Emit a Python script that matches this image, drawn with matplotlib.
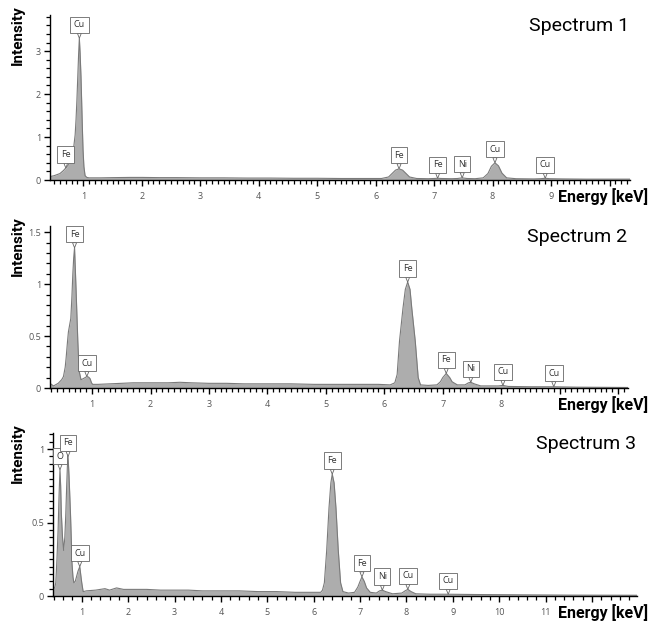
import matplotlib
matplotlib.use('Agg')
import matplotlib.pyplot as plt
from matplotlib.ticker import MultipleLocator, FormatStrFormatter

# spectrum 1
e1 = [0.43, 0.50, 0.60, 0.66, 0.70, 0.75, 0.80, 0.83, 0.86, 0.875, 0.89, 0.905, 0.92, 0.932,
      0.945, 0.96, 0.972, 0.983, 0.995, 1.01, 1.03, 1.06, 1.10, 1.3, 1.5, 1.8, 2.0, 2.3, 2.6,
      3.0, 3.4, 3.8, 4.2, 4.6, 5.0, 5.4, 5.8, 6.1, 6.22, 6.28, 6.34, 6.40, 6.46, 6.52, 6.58,
      6.7, 6.9, 7.0, 7.06, 7.12, 7.3, 7.4, 7.48, 7.56, 7.7, 7.84, 7.92, 7.98, 8.04, 8.10,
      8.16, 8.24, 8.4, 8.7, 8.82, 8.9, 8.98, 9.2, 9.6, 10.0, 10.35]
i1 = [0.08, 0.10, 0.15, 0.22, 0.28, 0.36, 0.50, 0.70, 1.05, 1.40, 1.85, 2.40, 2.95, 3.30,
      2.95, 2.40, 1.80, 1.24, 0.70, 0.31, 0.10, 0.06, 0.05, 0.05, 0.055, 0.06, 0.06, 0.055, 0.055,
      0.05, 0.05, 0.045, 0.045, 0.04, 0.04, 0.035, 0.035, 0.035, 0.07, 0.15, 0.23, 0.26, 0.23, 0.15, 0.07,
      0.035, 0.03, 0.035, 0.04, 0.035, 0.03, 0.035, 0.05, 0.035, 0.03, 0.05, 0.15, 0.32, 0.40, 0.33,
      0.16, 0.05, 0.03, 0.025, 0.03, 0.04, 0.03, 0.025, 0.02, 0.02, 0.02]
lab1 = ['Fe', 'Cu', 'Fe', 'Fe', 'Ni', 'Cu', 'Cu']
le1 = [0.70, 0.932, 6.40, 7.06, 7.48, 8.04, 8.90]
li1 = [0.28, 3.30, 0.26, 0.04, 0.05, 0.40, 0.04]

# spectrum 2
e2 = [0.28, 0.34, 0.42, 0.48, 0.51, 0.54, 0.556, 0.58, 0.595, 0.62, 0.636, 0.655, 0.67, 0.685,
      0.70, 0.713, 0.727, 0.742, 0.756, 0.77, 0.78, 0.81, 0.85, 0.88, 0.91, 0.94, 0.966, 0.99,
      1.01, 1.1, 1.3, 1.5, 1.7, 2.0, 2.3, 2.5, 2.7, 3.0, 3.3, 3.6, 4.0, 4.4, 4.8, 5.2, 5.6, 5.9,
      6.1, 6.18, 6.22, 6.26, 6.32, 6.36, 6.40, 6.44, 6.47, 6.53, 6.58, 6.62, 6.75, 6.9, 6.96,
      7.0, 7.06, 7.12, 7.16, 7.25, 7.38, 7.44, 7.48, 7.54, 7.65, 7.95, 8.03, 8.12, 8.5, 8.9,
      9.3, 10.17]
i2 = [0.045, 0.02, 0.045, 0.08, 0.11, 0.20, 0.29, 0.45, 0.54, 0.62, 0.67, 0.88, 1.09, 1.25,
      1.35, 1.15, 0.93, 0.68, 0.45, 0.27, 0.16, 0.08, 0.09, 0.10, 0.11, 0.105, 0.09, 0.05,
      0.035, 0.035, 0.04, 0.045, 0.05, 0.05, 0.05, 0.055, 0.05, 0.045, 0.045, 0.04, 0.04, 0.04, 0.035, 0.035, 0.035, 0.035,
      0.03, 0.05, 0.13, 0.45, 0.77, 0.95, 1.02, 0.95, 0.77, 0.45, 0.10, 0.03, 0.025, 0.03, 0.06,
      0.10, 0.14, 0.10, 0.06, 0.03, 0.03, 0.05, 0.055, 0.04, 0.02, 0.02, 0.025, 0.015, 0.012, 0.012,
      0.008, 0.005]
lab2 = ['Fe', 'Cu', 'Fe', 'Fe', 'Ni', 'Cu', 'Cu']
le2 = [0.70, 0.91, 6.40, 7.06, 7.48, 8.03, 8.90]
li2 = [1.35, 0.11, 1.02, 0.14, 0.055, 0.025, 0.012]

# spectrum 3
e3 = [0.38, 0.42, 0.44, 0.465, 0.49, 0.51, 0.53, 0.545, 0.56, 0.585, 0.61, 0.635, 0.656, 0.675,
      0.69, 0.705, 0.725, 0.74, 0.757, 0.775, 0.79, 0.81, 0.83, 0.86, 0.886, 0.92, 0.957, 0.98,
      1.0, 1.03, 1.1, 1.3, 1.5, 1.6, 1.75, 1.9, 2.1, 2.4, 2.7, 3.0, 3.3, 3.6, 4.0, 4.4, 4.8, 5.2,
      5.6, 6.0, 6.15, 6.19, 6.23, 6.28, 6.33, 6.37, 6.40, 6.44, 6.48, 6.53, 6.58, 6.63, 6.75,
      6.88, 6.95, 7.0, 7.04, 7.09, 7.14, 7.22, 7.35, 7.42, 7.48, 7.55, 7.7, 7.9, 7.97, 8.03,
      8.1, 8.2, 8.5, 8.9, 9.5, 10.5, 11.5, 12.97]
i3 = [0.04, 0.06, 0.09, 0.25, 0.45, 0.68, 0.86, 0.75, 0.56, 0.40, 0.31, 0.40, 0.56, 0.75,
      0.88, 0.95, 0.82, 0.70, 0.56, 0.38, 0.22, 0.13, 0.09, 0.10, 0.13, 0.17, 0.20, 0.14,
      0.09, 0.03, 0.035, 0.04, 0.05, 0.04, 0.055, 0.045, 0.045, 0.045, 0.04, 0.04, 0.04, 0.035, 0.035, 0.035, 0.03, 0.03,
      0.025, 0.025, 0.025, 0.04, 0.09, 0.31, 0.60, 0.77, 0.83, 0.77, 0.60, 0.31, 0.09, 0.03, 0.02,
      0.025, 0.06, 0.10, 0.13, 0.10, 0.055, 0.025, 0.02, 0.035, 0.04, 0.03, 0.015, 0.02, 0.035, 0.045,
      0.03, 0.015, 0.012, 0.012, 0.01, 0.008, 0.006, 0.005]
lab3 = ['O', 'Fe', 'Cu', 'Fe', 'Fe', 'Ni', 'Cu', 'Cu']
le3 = [0.53, 0.705, 0.957, 6.40, 7.04, 7.48, 8.03, 8.90]
li3 = [0.86, 0.95, 0.20, 0.83, 0.13, 0.04, 0.045, 0.012]

W, H = 650, 623
fig = plt.figure(figsize=(6.5, 6.23), dpi=100)

panels = [
    # data, labels, rect in px (left, top, right, bottom), limits, y major/minor, x minor, last x label, title
    (e1, i1, lab1, le1, li1, (50, 15, 630, 180), (0.43, 10.35), (0, 3.84), 1, 0.2, 0.1, 9, 'Spectrum 1'),
    (e2, i2, lab2, le2, li2, (50, 226, 628, 388), (0.28, 10.17), (0, 1.56), 0.5, 0.1, 0.1, 8, 'Spectrum 2'),
    (e3, i3, lab3, le3, li3, (53, 433, 637, 596), (0.38, 12.97), (0, 1.11), 0.5, 0.05, 0.2, 11, 'Spectrum 3'),
]

for e, inten, labs, lx, ly, rect, xl, yl, ymaj, ymin, xmin, xlast, title in panels:
    l, t, r, b = rect
    ax = fig.add_axes([l / W, 1 - b / H, (r - l) / W, (b - t) / H])
    ax.fill_between(e, inten, 0, color='#adadad', lw=0)
    ax.plot(e, inten, color='#7a7a7a', lw=0.8)
    ax.set_xlim(*xl)
    ax.set_ylim(*yl)
    for s in ['top', 'right']:
        ax.spines[s].set_visible(False)
    for s in ['left', 'bottom']:
        ax.spines[s].set_linewidth(1.0)
    ax.xaxis.set_major_locator(MultipleLocator(1))
    ax.xaxis.set_minor_locator(MultipleLocator(xmin))
    ax.xaxis.set_major_formatter(FormatStrFormatter('%g'))
    ax.yaxis.set_major_locator(MultipleLocator(ymaj))
    ax.yaxis.set_minor_locator(MultipleLocator(ymin))
    ax.yaxis.set_major_formatter(FormatStrFormatter('%g'))
    ax.tick_params(which='major', length=4.5, width=1.0, labelsize=6.5, labelcolor='#555555', pad=2)
    ax.tick_params(which='minor', length=2.8, width=0.9)
    ax.tick_params(axis='x', which='major', pad=4)
    fig.canvas.draw()
    for tick in ax.xaxis.get_major_ticks():
        if tick.get_loc() > xlast + 0.01:
            tick.label1.set_visible(False)
    for lab_, x_, y_ in zip(labs, lx, ly):
        ax.annotate(lab_, xy=(x_, y_), xytext=(0, 6.5), textcoords='offset points',
                    ha='center', va='bottom', fontsize=6.5, color='#333333',
                    family='Open Sans',
                    bbox=dict(boxstyle='square,pad=0.4', fc='white', ec='#666666', lw=0.6),
                    arrowprops=dict(arrowstyle='wedge,tail_width=0.45,shrink_factor=0.5',
                                    fc='white', ec='#666666', lw=0.6, shrinkA=0, shrinkB=0))
    for tl in ax.get_xticklabels() + ax.get_yticklabels():
        tl.set_family('Open Sans')
    fig.text(18 / W, 1 - (t - 10) / H, 'Intensity', rotation=90, ha='center', va='top',
             fontsize=11, fontweight='bold', family='Roboto')
    fig.text(648 / W, 1 - (b + 17) / H, 'Energy [keV]', ha='right', va='center',
             fontsize=11.5, fontweight='bold', family='Roboto')
    fig.text((r - 1) / W, 1 - (t + 11) / H, title, ha='right', va='center',
             fontsize=14, family='Roboto')

fig.savefig('out.png', dpi=100)
plt.close()
